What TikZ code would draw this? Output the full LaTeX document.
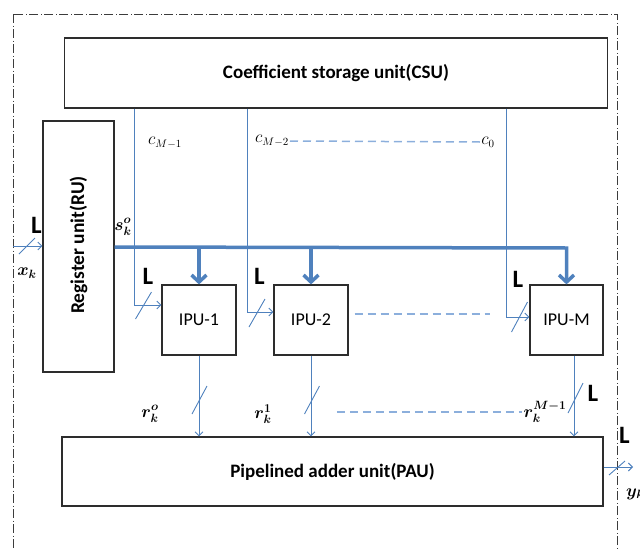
\documentclass[tikz,border=0pt]{standalone}
\usepackage{fontspec}
\setmainfont{Carlito}
\usepackage{amsmath}
\usetikzlibrary{arrows.meta,calc}

\definecolor{wire}{RGB}{79,129,189}
\definecolor{wirelight}{RGB}{140,175,220}
\definecolor{boxline}{RGB}{45,45,45}
\definecolor{framegray}{RGB}{60,60,60}

\begin{document}
\begin{tikzpicture}[x=1pt,y=-1pt,
  blockbox/.style={draw=boxline, line width=1.2pt, inner sep=0pt, fill=white,
    font=\fontsize{18}{21}\selectfont},
  boldbox/.style={blockbox, font=\fontsize{19}{22}\selectfont\bfseries},
  sig/.style={draw=wire, line width=0.9pt, -{Straight Barb[length=4pt,width=8pt]}},
  bus/.style={draw=wire, line width=3.5pt, -{Straight Barb[length=7pt,width=15pt]}},
  slashmark/.style={draw=wire, line width=0.9pt},
  etc/.style={draw=wirelight, line width=1.5pt, dash pattern=on 8pt off 5pt},
  widthlbl/.style={font=\fontsize{25}{27}\selectfont\bfseries, inner sep=0pt},
  coeff/.style={font=\fontsize{16}{19}\selectfont, inner sep=1pt},
  signame/.style={font=\fontsize{18}{20}\selectfont\boldmath, inner sep=1pt}
]
\useasboundingbox (0,0) rectangle (640,549);

% enclosing system boundary
\draw[framegray, line width=1pt, dash pattern=on 9pt off 2.5pt on 1pt off 2.5pt]
  (13,14) rectangle (617,570);

% functional blocks
\node[boldbox, minimum width=543pt, minimum height=70pt] (csu) at (336,73)
  {Coefficient storage unit(CSU)};
\node[boldbox, minimum width=71pt, minimum height=251pt] (ru) at (78.5,246.5) {};
\node[font=\fontsize{19.5}{22}\selectfont\bfseries, rotate=90] (rulabel) at (78.5,245)
  {Register unit(RU)};
\node[blockbox, minimum width=74pt, minimum height=70pt] (ipu1) at (199,320) {IPU-1};
\node[blockbox, minimum width=74pt, minimum height=70pt] (ipu2) at (311,320) {IPU-2};
\node[blockbox, minimum width=73pt, minimum height=70pt] (ipum) at (566.5,320) {IPU-M};
\node[boldbox, minimum width=541pt, minimum height=69pt] (pau) at (332.5,471.5)
  {Pipelined adder unit(PAU)};

% coefficient taps
\coordinate (tapA) at (134,305);
\coordinate (tapB) at (247,312);
\coordinate (tapC) at (506,317);
\draw[sig] (csu.south -| tapA) -- (tapA) -- (tapA -| ipu1.west);
\draw[sig] (csu.south -| tapB) -- (tapB) -- (tapB -| ipu2.west);
\draw[sig] (csu.south -| tapC) -- (tapC) -- (tapC -| ipum.west);
\draw[slashmark] (143.5,305.5) ++(-8,13.5) -- ++(16,-27);
\draw[slashmark] (257,313) ++(-8,14) -- ++(16,-28);
\draw[slashmark] (519.5,317) ++(-8,15) -- ++(16,-30);

\node[coeff] (cA) at (165,143) {$c_{M-1}$};
\node[coeff] (cB) at (272,141) {$c_{M-2}$};
\node[coeff] (cC) at (488,142) {$c_0$};
\draw[etc] (cB.east) -- (cC.west);

% input sample
\coordinate (xin) at (13,246);
\draw[sig] (xin) -- (xin -| ru.west);
\draw[slashmark] (27,246) ++(-8,8) -- ++(16,-16);
\node[widthlbl] (Lx) at (36.5,225) {L};
\node[signame] (xk) at (27,273) {$x_k$};

% broadcast bus of register contents
\coordinate (busend) at (ipum.north |- 0,248);
\draw[bus] (ru.east |- 0,247) -- (busend) -- (ipum.north);
\draw[bus] (ipu1.north |- 0,247) -- (ipu1.north);
\draw[bus] (ipu2.north |- 0,247) -- (ipu2.north);
\node[signame] (sk) at (123,227) {$s_k^o$};

% width labels on coefficient taps
\node[widthlbl] (L1) at (148,276) {L};
\node[widthlbl] (L2) at (259.5,276) {L};
\node[widthlbl] (L3) at (518,279) {L};

% further processing units (elided)
\draw[etc] ($(ipu2.east)+(6,-6)$) -- ($(tapC)+(-16,-3)$);

% partial results to adder
\coordinate (outM) at (574,398);
\draw[sig] (ipu1.south) -- (ipu1.south |- pau.north);
\draw[sig] (ipu2.south) -- (ipu2.south |- pau.north);
\draw[sig] (ipum.south -| outM) -- (pau.north -| outM);
\draw[slashmark] (199.5,400) ++(-7.5,14) -- ++(15,-28);
\draw[slashmark] (312,400) ++(-7.5,14) -- ++(15,-28);
\draw[slashmark] (575.5,398) ++(-7.5,15) -- ++(15,-30);
\node[widthlbl] (L4) at (593,393) {L};

\node[signame] (r0) at (150,414) {$r_k^o$};
\node[signame] (r1) at (263,414) {$r_k^1$};
\node[signame] (rM) at (545,412) {$r_k^{M-1}$};
\draw[etc] ($(r1.east)+(64,-2)$) -- (rM.west);

% filter output
\coordinate (yout) at (633,467);
\draw[sig] (pau.east |- yout) -- (yout);
\draw[slashmark] (617,468) ++(-8,7) -- ++(16,-14);
\node[widthlbl] (L5) at (624.5,435) {L};
\node[signame, anchor=west] (yk) at (625,494) {$y_k$};
\end{tikzpicture}
\end{document}
